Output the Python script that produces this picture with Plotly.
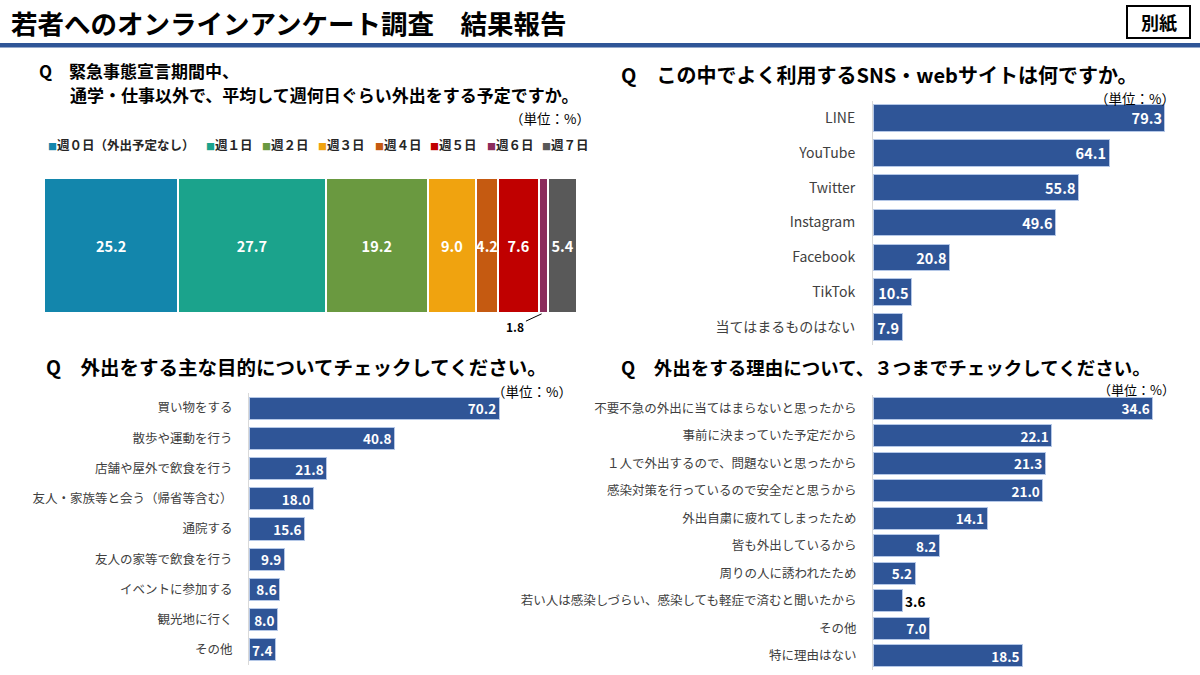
import plotly.graph_objects as go

W, H = 1200, 675
FONT = "Noto Sans CJK JP"
BLUE = "#2F5597"

# ---------------- data ----------------
days_labels = ["週０日（外出予定なし）", "週１日", "週２日", "週３日", "週４日", "週５日", "週６日", "週７日"]
days_values = [25.2, 27.7, 19.2, 9.0, 4.2, 7.6, 1.8, 5.4]
days_colors = ["#1386AC", "#1BA38C", "#6A9940", "#F0A30F", "#C55A11", "#C00000", "#8B2C5C", "#595959"]

sns_labels = ["LINE", "YouTube", "Twitter", "Instagram", "Facebook", "TikTok", "当てはまるものはない"]
sns_values = [79.3, 64.1, 55.8, 49.6, 20.8, 10.5, 7.9]

purpose_labels = ["買い物をする", "散歩や運動を行う", "店舗や屋外で飲食を行う", "友人・家族等と会う（帰省等含む）",
                  "通院する", "友人の家等で飲食を行う", "イベントに参加する", "観光地に行く", "その他"]
purpose_values = [70.2, 40.8, 21.8, 18.0, 15.6, 9.9, 8.6, 8.0, 7.4]

reason_labels = ["不要不急の外出に当てはまらないと思ったから", "事前に決まっていた予定だから",
                 "１人で外出するので、問題ないと思ったから", "感染対策を行っているので安全だと思うから",
                 "外出自粛に疲れてしまったため", "皆も外出しているから", "周りの人に誘われたため",
                 "若い人は感染しづらい、感染しても軽症で済むと聞いたから", "その他", "特に理由はない"]
reason_values = [34.6, 22.1, 21.3, 21.0, 14.1, 8.2, 5.2, 3.6, 7.0, 18.5]


def px(x):
    return x / W


def py(y):
    return 1 - y / H


fig = go.Figure()

# ---------------- top-left stacked bar ----------------
for lab, val, col in zip(days_labels, days_values, days_colors):
    fig.add_trace(go.Bar(
        x=[val], y=["all"], orientation="h", name=lab,
        marker=dict(color=col, line=dict(color="white", width=2)),
        text=[f"{val:.1f}" if val >= 3 else ""], textposition="inside",
        insidetextanchor="middle", constraintext="none", textangle=0,
        textfont=dict(family=FONT, size=14.5, color="white", weight="bold"),
        width=1, xaxis="x", yaxis="y", showlegend=False, cliponaxis=False,
    ))

# ---------------- horizontal bar charts ----------------
def hbar(labels, values, xa, ya, size, width, outside=()):
    tp = ["outside" if i in outside else "inside" for i in range(len(values))]
    tc = ["black" if i in outside else "white" for i in range(len(values))]
    fig.add_trace(go.Bar(
        x=values, y=labels, orientation="h",
        marker=dict(color=BLUE, line=dict(color="#B4C7E7", width=1)),
        text=[f"{v:.1f}" for v in values], textposition=tp,
        insidetextanchor="end", constraintext="none", textangle=0,
        textfont=dict(family=FONT, size=size, color=tc, weight="bold"),
        width=width, xaxis=xa, yaxis=ya, showlegend=False, cliponaxis=False,
    ))

hbar(sns_labels, sns_values, "x2", "y2", 14.5, 0.76)
hbar(purpose_labels, purpose_values, "x3", "y3", 13.5, 0.73)
hbar(reason_labels, reason_values, "x4", "y4", 13.5, 0.8, outside=(7,))

base_x = dict(showgrid=False, zeroline=False, showticklabels=False, fixedrange=True)

def yax(labels, dom, size, standoff):
    return dict(type="category", categoryarray=labels, autorange="reversed",
                domain=dom, showgrid=False, zeroline=False, showline=True,
                linecolor="#D9D9D9", linewidth=1, ticks="",
                ticklabelstandoff=standoff,
                tickfont=dict(family=FONT, size=size, color="#404040"))

fig.update_layout(
    width=W, height=H, margin=dict(l=0, r=0, t=0, b=0),
    paper_bgcolor="white", plot_bgcolor="white", barmode="stack",
    font=dict(family=FONT),
    xaxis=dict(**base_x, domain=[px(44), px(577)], range=[0, sum(days_values)]),
    yaxis=dict(domain=[py(313), py(178)], range=[-0.5, 0.5], showgrid=False,
               zeroline=False, showticklabels=False, fixedrange=True),
    xaxis2=dict(**base_x, domain=[px(873), px(1190)], range=[0, 86.1], anchor="y2"),
    yaxis2=yax(sns_labels, [py(344.5), py(100.5)], 14, 14) | dict(anchor="x2"),
    xaxis3=dict(**base_x, domain=[px(249), px(580)], range=[0, 92.9], anchor="y3"),
    yaxis3=yax(purpose_labels, [py(665), py(393)], 12.5, 13) | dict(anchor="x3"),
    xaxis4=dict(**base_x, domain=[px(873), px(1190)], range=[0, 39.2], anchor="y4"),
    yaxis4=yax(reason_labels, [py(669.5), py(394.5)], 12.5, 13) | dict(anchor="x4"),
)

ann = []

def text(x, y, s, size, bold=True, xanchor="left", color="black"):
    ann.append(dict(x=px(x), y=py(y), xref="paper", yref="paper", text=s,
                    showarrow=False, xanchor=xanchor, yanchor="middle", align="left",
                    font=dict(family=FONT, size=size, color=color,
                              weight="bold" if bold else "normal")))

# header
text(9, 22, "若者へのオンラインアンケート調査　結果報告", 26.5)
text(1158.5, 22, "別紙", 18, xanchor="center")

# questions
text(37, 70, "Q　緊急事態宣言期間中、", 17)
text(68, 95, "通学・仕事以外で、平均して週何日ぐらい外出をする予定ですか。", 17)
text(592, 118, "（単位：%）", 13.5, bold=False, xanchor="right")

text(619, 74, "Q　この中でよく利用するSNS・webサイトは何ですか。", 20)
text(1177, 98, "（単位：%）", 13.5, bold=False, xanchor="right")

text(44, 366, "Q　外出をする主な目的についてチェックしてください。", 19.5)
text(574, 391, "（単位：%）", 13.5, bold=False, xanchor="right")

text(619, 367, "Q　外出をする理由について、３つまでチェックしてください。", 18.5)
text(1177, 389, "（単位：%）", 13, bold=False, xanchor="right")

# legend for stacked bar
leg_x = [46, 204, 260, 316, 373, 428, 485, 540]
for lx, lab, col in zip(leg_x, days_labels, days_colors):
    text(lx, 145, f"<span style='color:{col};font-size:9px'>■</span>{lab}", 12.5, color="#262626")

# 1.8 leader label
ann.append(dict(x=sum(days_values[:6]) + days_values[6] / 2, y=-0.5, xref="x", yref="y",
                text="1.8", showarrow=True, arrowhead=0, arrowwidth=1, arrowcolor="black",
                ax=-28, ay=13, standoff=2,
                font=dict(family=FONT, size=12, color="black", weight="bold")))

fig.update_layout(annotations=ann)

# shapes: header rule and box
fig.add_shape(type="rect", xref="paper", yref="paper", x0=0, x1=1, y0=py(47.5), y1=py(43),
              fillcolor=BLUE, line=dict(width=0))
fig.add_shape(type="rect", xref="paper", yref="paper", x0=px(1127), x1=px(1190),
              y0=py(38), y1=py(6), line=dict(color="black", width=2), fillcolor="rgba(0,0,0,0)")

fig.write_html("out.html", config={"displayModeBar": False},
               post_script="document.body.style.margin='0';document.body.style.padding='0';")
